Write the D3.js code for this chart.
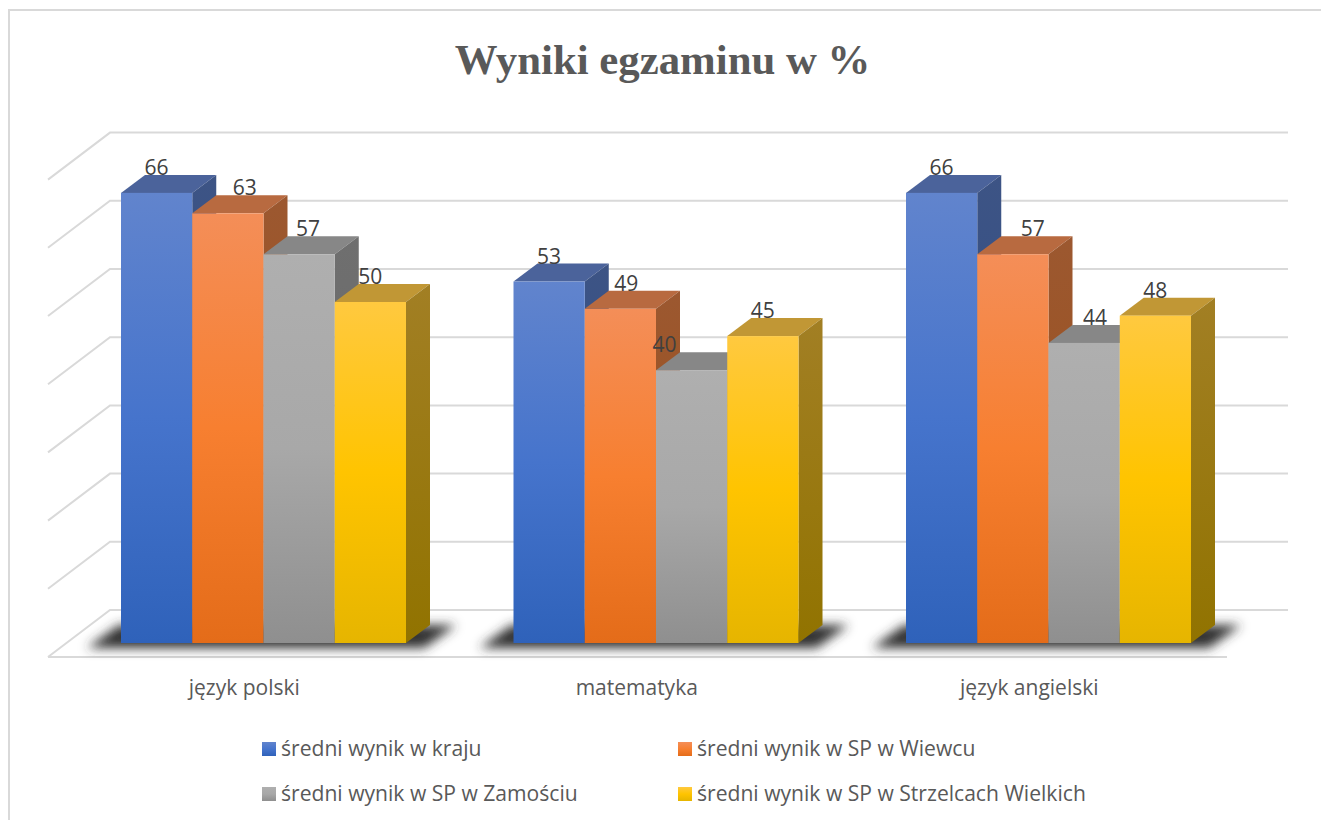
<!DOCTYPE html>
<html><head><meta charset="utf-8">
<script src="https://cdn.jsdelivr.net/npm/d3@7"></script>
<style>html,body{margin:0;padding:0;background:#fff;overflow:hidden}svg{display:block}</style>
</head><body><div id="c"></div>
<script>
const titleText = "Wyniki egzaminu w %";
const categories = ["język polski", "matematyka", "język angielski"];
const seriesNames = ["średni wynik w kraju", "średni wynik w SP w Wiewcu", "średni wynik w SP w Zamościu", "średni wynik w SP w Strzelcach Wielkich"];
const krajValues = [66, 53, 66];
const wiewiecValues = [63, 49, 57];
const zamoscValues = [57, 40, 44];
const strzelceValues = [50, 45, 48];
const allSeries = [krajValues, wiewiecValues, zamoscValues, strzelceValues];
const gridTicks = [0, 10, 20, 30, 40, 50, 60, 70];

const W = 1321, H = 820;
const svg = d3.select("#c").append("svg").attr("width", W).attr("height", H);
const defs = svg.append("defs");

// layout
const floorFront = 657, floorBack = 610, floorDx = 62;
const base = 643, unit = 6.82;
const barDx = 24, barDy = 18, barShift = 19;
const labelNudge = [[0, 17, 9, 0], [0, 6, -27, 0], [0, 20, 11, 0]];

const x0 = d3.scaleBand().domain(categories).range([48, 1225.5]);
const x1 = d3.scaleBand().domain(d3.range(4)).range([54, 339]);
const yBar = d3.scaleLinear().domain([0, 70]).range([base, base - 70 * unit]);
const yBack = d3.scaleLinear().domain([0, 70]).range([floorBack, floorBack - 70 * unit]);

const palette = [
  {g: ["#6184cd", "#4674cc", "#2f62ba"], top: "#4b639b", side: ["#3d5485", "#2c4a85"]},
  {g: ["#f48e58", "#f77f30", "#e46c19"], top: "#b86a40", side: ["#9c5830", "#9a4e15"]},
  {g: ["#afafaf", "#a8a8a8", "#8f8f8f"], top: "#878787", side: ["#6f6f6f", "#666666"]},
  {g: ["#ffc93f", "#ffc400", "#e6b500"], top: "#c19735", side: ["#a27f24", "#917300"]}
];
palette.forEach((p, i) => {
  const g = defs.append("linearGradient").attr("id", "f" + i).attr("x1", 0).attr("x2", 0).attr("y1", 0).attr("y2", 1);
  g.append("stop").attr("offset", "0%").attr("stop-color", p.g[0]);
  g.append("stop").attr("offset", "50%").attr("stop-color", p.g[1]);
  g.append("stop").attr("offset", "100%").attr("stop-color", p.g[2]);
  const s = defs.append("linearGradient").attr("id", "s" + i).attr("x1", 0).attr("x2", 0).attr("y1", 0).attr("y2", 1);
  s.append("stop").attr("offset", "0%").attr("stop-color", p.side[0]);
  s.append("stop").attr("offset", "100%").attr("stop-color", p.side[1]);
});
defs.append("filter").attr("id", "blur").attr("x", "-20%").attr("y", "-80%").attr("width", "140%").attr("height", "260%")
  .append("feGaussianBlur").attr("stdDeviation", 5.5);

// chart frame: left and top edges only, as in the picture
svg.append("path").attr("d", d3.line()([[9, 820], [9, 10], [1321, 10]]))
  .attr("fill", "none").attr("stroke", "#d9d9d9").attr("stroke-width", 2);

// title
svg.append("text").attr("x", 662.5).attr("y", 74).attr("text-anchor", "middle")
  .attr("font-family", "'Liberation Serif'").attr("font-weight", "bold").attr("font-size", 42.8)
  .attr("fill", "#595959").text(titleText);

// gridlines: wall side + back wall
const grid = svg.append("g").attr("fill", "none").attr("stroke", "#d9d9d9").attr("stroke-width", 2);
gridTicks.forEach(t => {
  const yb = yBack(t);
  grid.append("path").attr("d", d3.line()([[48, yb + (floorFront - floorBack)], [48 + floorDx, yb], [1288, yb]]));
});
grid.append("line").attr("x1", 48).attr("x2", 1227).attr("y1", floorFront).attr("y2", floorFront);

// groups
categories.forEach((cat, ci) => {
  const gx = x0(cat);
  const xf = k => gx + barShift + x1(k);
  const bw = x1.bandwidth();
  const L = xf(0), R = xf(3) + bw;
  // floor shadow
  svg.append("path").attr("filter", "url(#blur)").attr("fill", "#333")
    .attr("d", d3.line()([[L - 34, base + 5], [L - 2, base - 18], [R + 50, base - 18], [R + 18, base + 5]]));
  allSeries.forEach((vals, si) => {
    const v = vals[ci], x = xf(si), y = yBar(v), g = svg.append("g");
    g.append("path").attr("fill", palette[si].top)
      .attr("d", d3.line()([[x, y], [x + barDx, y - barDy], [x + bw + barDx, y - barDy], [x + bw, y]]));
    g.append("path").attr("fill", `url(#s${si})`)
      .attr("d", d3.line()([[x + bw, y], [x + bw + barDx, y - barDy], [x + bw + barDx, base - barDy], [x + bw, base]]));
    g.append("rect").attr("x", x).attr("y", y).attr("width", bw).attr("height", base - y).attr("fill", `url(#f${si})`);
  });
  allSeries.forEach((vals, si) => {
    const v = vals[ci];
    svg.append("text").attr("x", xf(si) + bw / 2 + labelNudge[ci][si]).attr("y", yBar(v) - 18)
      .attr("text-anchor", "middle").attr("font-family", "'Open Sans'").attr("font-size", 21)
      .attr("fill", "#404040").text(v);
  });
  svg.append("text").attr("x", gx + x0.bandwidth() / 2).attr("y", 695).attr("text-anchor", "middle")
    .attr("font-family", "'Open Sans'").attr("font-size", 21).attr("fill", "#595959").text(cat);
});

// legend
const legendX = [262, 678], legendY = [742, 787];
seriesNames.forEach((n, i) => {
  const lx = legendX[i % 2], ly = legendY[Math.floor(i / 2)];
  svg.append("rect").attr("x", lx).attr("y", ly).attr("width", 14).attr("height", 14).attr("fill", `url(#f${i})`);
  svg.append("text").attr("x", lx + 19).attr("y", ly + 14).attr("font-family", "'Open Sans'").attr("font-size", 21.1)
    .attr("fill", "#595959").text(n);
});
</script></body></html>
